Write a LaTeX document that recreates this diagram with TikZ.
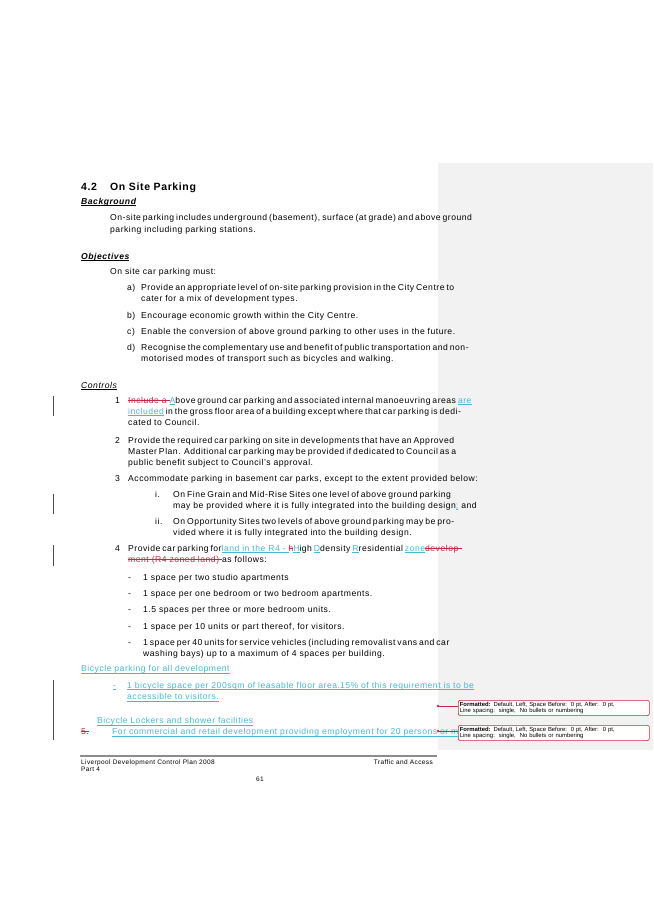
\documentclass[tikz,border=0pt]{standalone}
\usepackage{fontspec}
\setmainfont[LetterSpace=6]{Liberation Sans}
\newfontfamily\balfont{Liberation Sans}
\definecolor{cy}{RGB}{70,185,210}
\definecolor{rd}{RGB}{200,40,70}
\definecolor{pan}{RGB}{242,242,242}
\newsavebox\tmpbx
\newcommand{\ins}[1]{\sbox\tmpbx{\color{cy}#1}{\color{cy}\rlap{\usebox\tmpbx}\rule[-0.22em]{\wd\tmpbx}{0.4pt}}}
\newcommand{\del}[1]{\sbox\tmpbx{\color{rd}#1}{\color{rd}\rlap{\usebox\tmpbx}\rule[0.28em]{\wd\tmpbx}{0.4pt}}}
\newcommand{\ul}[1]{\sbox\tmpbx{#1}\rlap{\usebox\tmpbx}\rule[-0.22em]{\wd\tmpbx}{0.4pt}}
\newcommand{\Tx}[3]{\node[txt] at (#1,-#2) {#3};}
\newcommand{\Jx}[4]{\node[txt] at (#1,-#2) {\hbox to #3pt{#4}};}
\tikzset{txt/.style={anchor=base west,inner sep=0pt,font=\fontsize{8.6}{10}\selectfont},
 bar/.style={line width=0.6pt,black!70},
 balloon/.style={draw=rd,rounded corners=2pt,line width=0.6pt,fill=white,anchor=north west,inner sep=1.5pt,text width=188pt,align=left,font=\balfont\fontsize{5.9}{6.8}\selectfont}}
\begin{document}
\begin{tikzpicture}[x=1pt,y=1pt]
\useasboundingbox (0,0) rectangle (653,-923);
\fill[pan] (438,-163) rectangle (653,-750);
% change bars
\draw[bar] (53,-396) -- (53,-416);
\draw[bar] (53,-494) -- (53,-514);
\draw[bar] (53,-545) -- (53,-566);
\draw[bar] (53,-680) -- (53,-740);
% heading
\node[txt,font=\fontsize{10.5}{12}\selectfont\bfseries] at (81,-190) {4.2};
\node[txt,font=\fontsize{10.5}{12}\selectfont\bfseries] at (110,-190) {On Site Parking};
\Tx{81}{204}{\ul{\bfseries\itshape Background}}
\Jx{110}{220}{324}{On-site parking includes underground (basement), surface (at grade) and above ground}
\Tx{110}{232}{parking including parking stations.}
\Tx{81}{259}{\ul{\bfseries\itshape Objectives}}
\Tx{110}{274}{On site car parking must:}
\Tx{127}{290}{a)}
\Jx{141}{290}{293}{Provide an appropriate level of on-site parking provision in the City Centre to}
\Tx{141}{301}{cater for a mix of development types.}
\Tx{127}{318}{b)}\Tx{141}{318}{Encourage economic growth within the City Centre.}
\Tx{127}{334}{c)}\Tx{141}{334}{Enable the conversion of above ground parking to other uses in the future.}
\Tx{127}{350}{d)}
\Jx{141}{350}{293}{Recognise the complementary use and benefit of public transportation and non-}
\Tx{141}{361}{motorised modes of transport such as bicycles and walking.}
\Tx{81}{388}{\ul{\itshape Controls}}
\Tx{115}{403}{1}
\Jx{128}{403}{306}{\del{Include a }\ins{A}bove ground car parking and associated internal manoeuvring areas \ins{are}}
\Jx{128}{414}{306}{\ins{included} in the gross floor area of a building except where that car parking is dedi-}
\Tx{128}{425}{cated to Council.}
\Tx{115}{443}{2}
\Jx{128}{443}{306}{Provide the required car parking on site in developments that have an Approved}
\Jx{128}{454}{306}{Master Plan. Additional car parking may be provided if dedicated to Council as a}
\Tx{128}{465}{public benefit subject to Council's approval.}
\Tx{115}{481}{3}
\Tx{128}{481}{Accommodate parking in basement car parks, except to the extent provided below:}
\Tx{155}{497}{i.}
\Jx{173}{497}{261}{On Fine Grain and Mid-Rise Sites one level of above ground parking}
\Tx{173}{508}{may be provided where it is fully integrated into the building design\ins{;} and}
\Tx{155}{524}{ii.}
\Jx{173}{524}{261}{On Opportunity Sites two levels of above ground parking may be pro-}
\Tx{173}{535}{vided where it is fully integrated into the building design.}
\Tx{115}{551}{4}
\Jx{128}{551}{306}{Provide car parking for\ins{ land in the R4 - }\del{h}\ins{H}igh \ins{D}density \ins{R}residential \ins{zone}\del{develop-}}
\Tx{128}{562}{\del{ment (R4 zoned land) }as follows:}
\Tx{128}{580}{-}\Tx{143}{580}{1 space per two studio apartments}
\Tx{128}{596}{-}\Tx{143}{596}{1 space per one bedroom or two bedroom apartments.}
\Tx{128}{612}{-}\Tx{143}{612}{1.5 spaces per three or more bedroom units.}
\Tx{128}{629}{-}\Tx{143}{629}{1 space per 10 units or part thereof, for visitors.}
\Tx{128}{645}{-}
\Jx{143}{645}{291}{1 space per 40 units for service vehicles (including removalist vans and car}
\Tx{143}{656}{washing bays) up to a maximum of 4 spaces per building.}
\Tx{81}{671}{\ins{Bicycle parking for all development}}
\Tx{113}{688}{\ins{-}}
\Jx{127}{688}{307}{\ins{1 bicycle space per 200sqm of leasable floor area.}\hfil\ins{15\% of this requirement is to be}}
\Tx{127}{699}{\ins{accessible to visitors.}}
\Tx{97}{723}{\ins{Bicycle Lockers and shower facilities}}
\Tx{81}{734}{\del{5.}}
\Tx{112}{734}{\ins{For commercial and retail development providing employment for 20 persons or more.}}
% balloons
\node[balloon] (b1) at (458,-700) {\textbf{Formatted:} Default, Left, Space Before:\ \ 0 pt, After:\ \ 0 pt,\\Line spacing:\ \ single,\ \ No bullets or numbering};
\node[balloon] (b2) at (458,-725) {\textbf{Formatted:} Default, Left, Space Before:\ \ 0 pt, After:\ \ 0 pt,\\Line spacing:\ \ single,\ \ No bullets or numbering};
\coordinate (d1) at (438,-706);
\coordinate (d2) at (438,-731);
\draw[rd,line width=0.5pt] (d1) -- (b1.west|-d1);
\draw[rd,line width=0.5pt] (d2) -- (b2.west|-d2);
\fill[rd] (d1) circle (1.3pt);
\fill[rd] (d2) circle (1.3pt);
% footer
\draw[line width=1.2pt,black!45] (80,-756) -- (437,-756);
\node[txt,font=\fontsize{6.5}{7}\selectfont] at (81,-764) {Liverpool Development Control Plan 2008};
\node[txt,font=\fontsize{6.5}{7}\selectfont] at (81,-771) {Part 4};
\node[txt,font=\fontsize{6.5}{7}\selectfont,anchor=base east] at (433,-764) {Traffic and Access};
\node[txt,font=\fontsize{6.5}{7}\selectfont] at (256,-781) {61};
\end{tikzpicture}
\end{document}
